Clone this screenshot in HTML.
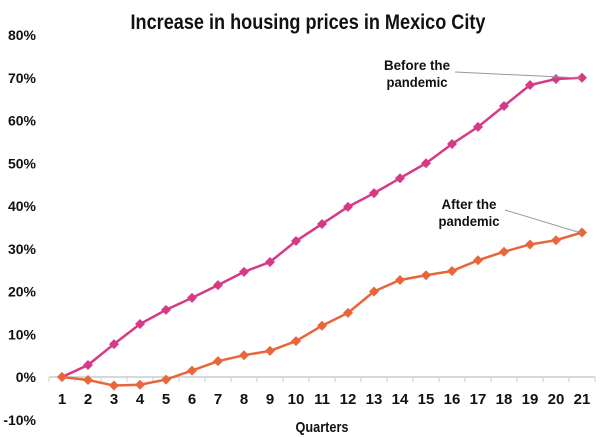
<!DOCTYPE html>
<html><head><meta charset="utf-8"><style>
body{margin:0;background:#fff;}
svg{display:block;font-family:"Liberation Sans Narrow","Liberation Sans",sans-serif;font-weight:bold;}
</style></head><body>
<svg id="chart" width="616" height="437" viewBox="0 0 616 437">
<text x="308" y="29" text-anchor="middle" font-size="21" fill="#111" textLength="355" lengthAdjust="spacingAndGlyphs">Increase in housing prices in Mexico City</text>
<g id="yaxis"></g>
<g id="xaxis"></g>
<g id="series"></g>
<text x="322" y="432" text-anchor="middle" font-size="15" fill="#111" textLength="53" lengthAdjust="spacingAndGlyphs">Quarters</text>
<line x1="455" y1="72" x2="581" y2="78" stroke="#999" stroke-width="1"/>
<text x="417" y="70" text-anchor="middle" font-size="14" fill="#111" textLength="66" lengthAdjust="spacingAndGlyphs">Before the</text>
<text x="417" y="87" text-anchor="middle" font-size="14" fill="#111" textLength="61" lengthAdjust="spacingAndGlyphs">pandemic</text>
<line x1="505" y1="210" x2="581" y2="233" stroke="#999" stroke-width="1"/>
<text x="469" y="209" text-anchor="middle" font-size="14" fill="#111" textLength="55" lengthAdjust="spacingAndGlyphs">After the</text>
<text x="469" y="226" text-anchor="middle" font-size="14" fill="#111" textLength="61" lengthAdjust="spacingAndGlyphs">pandemic</text>
</svg>
<script>
const quarters=[1,2,3,4,5,6,7,8,9,10,11,12,13,14,15,16,17,18,19,20,21];
const beforeValues=[0,2.8,7.7,12.4,15.7,18.5,21.5,24.6,26.9,31.8,35.8,39.8,43,46.5,50,54.5,58.5,63.4,68.3,69.7,70];
const afterValues=[0,-0.7,-2,-1.8,-0.6,1.5,3.7,5.1,6.1,8.4,12,15,20,22.7,23.8,24.8,27.3,29.3,31,32,33.8];
const yTicks=[-10,0,10,20,30,40,50,60,70,80];
const NS="http://www.w3.org/2000/svg";
function y(v){return 377-v*4.275;}
function x(i){return 62+i*26;}
function mk(t,a,p){const e=document.createElementNS(NS,t);for(const k in a)e.setAttribute(k,a[k]);p.appendChild(e);return e;}
const ya=document.getElementById('yaxis'),xa=document.getElementById('xaxis'),sg=document.getElementById('series');
yTicks.forEach(t=>{const e=mk('text',{x:36,y:y(t)+5,'text-anchor':'end','font-size':14,fill:'#111'},ya);e.textContent=t+'%';

});
const ax=mk('line',{x1:x(0)-13,x2:x(quarters.length-1)+13,y1:y(0),y2:y(0),stroke:'#ccc','stroke-width':1.5},xa);


for(let i=0;i<=quarters.length;i++){const t=mk('line',{x1:x(i)-13,x2:x(i)-13,y1:y(0),y2:y(0)+5,stroke:'#ccc','stroke-width':1},xa);

}
quarters.forEach((q,i)=>{const e=mk('text',{x:x(i),y:404,'text-anchor':'middle','font-size':15,fill:'#111'},xa);e.textContent=q;

});
function series(vals,color,name){
const pl=mk('polyline',{points:vals.map((v,i)=>x(i)+','+y(v)).join(' '),fill:'none',stroke:color,'stroke-width':2.5},sg);


vals.forEach((v,i)=>{const cx=x(i),cy=y(v);const d=mk('polygon',{points:`${cx},${cy-5} ${cx+5},${cy} ${cx},${cy+5} ${cx-5},${cy}`,fill:color},sg);

});}
series(beforeValues,'#d63a86','before-pandemic');
series(afterValues,'#e8663a','after-pandemic');
</script>
</body></html>
